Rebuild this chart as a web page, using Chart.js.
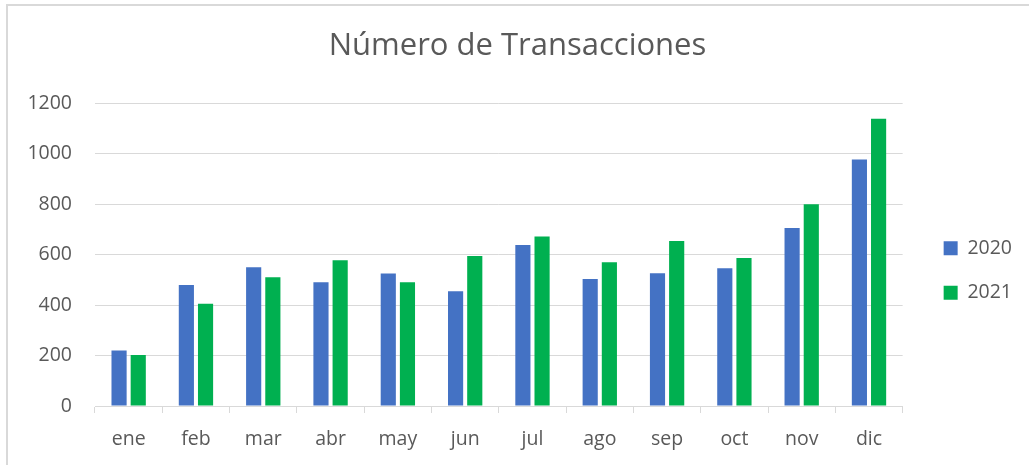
<!DOCTYPE html>
<html>
<head>
<meta charset="utf-8">
<script src="https://cdn.jsdelivr.net/npm/chart.js@4.4.1/dist/chart.umd.min.js"></script>
<style>
  html, body { margin: 0; padding: 0; background: #ffffff; overflow: hidden; }
  #wrap { position: relative; width: 1029px; height: 465px; }
  #frame { position: absolute; left: 6px; top: 4px; width: 1040px; height: 480px;
           border-top: 2px solid #d9d9d9; border-left: 2px solid #d9d9d9; pointer-events: none; }
  canvas { position: absolute; left: 0; top: 0; }
</style>
</head>
<body>
<div id="wrap">
  <div id="frame"></div>
  <canvas id="c" width="1029" height="465"></canvas>
</div>
<script>
const categories = ['ene', 'feb', 'mar', 'abr', 'may', 'jun', 'jul', 'ago', 'sep', 'oct', 'nov', 'dic'];
const values2020 = [220, 480, 550, 490, 525, 455, 638, 503, 526, 546, 705, 977];
const values2021 = [202, 405, 510, 578, 490, 594, 672, 570, 654, 587, 800, 1138];
const seriesNames = ['2020', '2021'];
const yTicks = [0, 200, 400, 600, 800, 1000, 1200];
const chartTitle = 'Número de Transacciones';

const TEXT = '#595959';
const GRID = '#d9d9d9';
const FONT = "'Open Sans', sans-serif";

const legendShift = {
  id: 'legendShift',
  afterLayout(chart) {
    const l = chart.legend;
    if (!l) return;
    const dx = 16, dy = 16;
    l.left += dx; l.right += dx; l.top += dy; l.bottom += dy;
  }
};

new Chart(document.getElementById('c'), {
  type: 'bar',
  data: {
    labels: categories,
    datasets: [
      { label: seriesNames[0], data: values2020, backgroundColor: '#4472C4',
        categoryPercentage: 0.57, barPercentage: 0.79 },
      { label: seriesNames[1], data: values2021, backgroundColor: '#00B050',
        categoryPercentage: 0.57, barPercentage: 0.79 }
    ]
  },
  plugins: [legendShift],
  options: {
    responsive: false,
    animation: false,
    devicePixelRatio: 1,
    layout: { padding: { left: 29, right: 23, top: 0, bottom: 0 } },
    plugins: {
      title: {
        display: true, text: chartTitle, color: TEXT,
        font: { family: FONT, size: 31, weight: 'normal' },
        padding: { top: 28, bottom: 38 }
      },
      legend: {
        position: 'right', fullSize: false,
        labels: {
          color: TEXT, font: { family: FONT, size: 19.5 },
          boxWidth: 14, boxHeight: 14, padding: 25
        }
      },
      tooltip: { enabled: false }
    },
    scales: {
      x: {
        grid: { display: true, offset: true, drawOnChartArea: false, drawTicks: true,
                tickLength: 7, color: GRID, lineWidth: 1 },
        border: { display: true, color: GRID, width: 1 },
        ticks: { color: TEXT, font: { family: FONT, size: 19.5 }, padding: 15, maxRotation: 0 },
        afterFit(s) { s.height = 59; }
      },
      y: {
        min: 0, max: 1200,
        afterBuildTicks(s) { s.ticks = yTicks.map(v => ({ value: v })); },
        grid: { color: GRID, lineWidth: 1, drawTicks: false },
        border: { display: false },
        ticks: { color: TEXT, font: { family: FONT, size: 19.5 }, padding: 23,
                 callback: (v) => String(v) },
        afterFit(s) { s.width = 66; }
      }
    }
  }
});
</script>
</body>
</html>
